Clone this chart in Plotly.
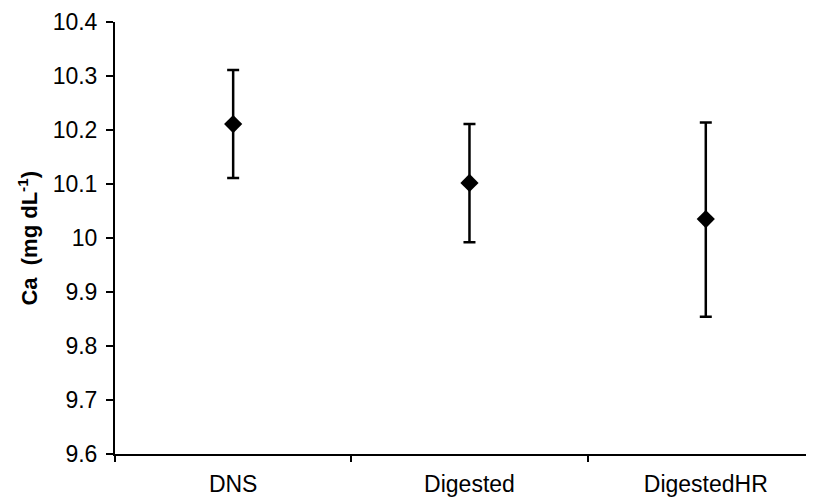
import plotly.graph_objects as go

categories = ["DNS", "Digested", "DigestedHR"]
means = [10.211, 10.102, 10.035]
upper = [10.311, 10.211, 10.214]
lower = [10.111, 9.992, 9.854]
y_ticks = [9.6, 9.7, 9.8, 9.9, 10.0, 10.1, 10.2, 10.3, 10.4]
y_tick_labels = ["9.6", "9.7", "9.8", "9.9", "10", "10.1", "10.2", "10.3", "10.4"]

err_plus = [u - m for u, m in zip(upper, means)]
err_minus = [m - l for m, l in zip(means, lower)]

# page body has an 8px margin, compensate in the figure margins
W, H = 814, 497
L, R, T, B = 106.5, 12, 14, 50.5
PW = W - L - R

fig = go.Figure()
fig.add_trace(go.Scatter(
    x=categories, y=means, mode="markers",
    marker=dict(symbol="diamond", size=14, color="black"),
    error_y=dict(type="data", symmetric=False, array=err_plus, arrayminus=err_minus,
                 color="black", thickness=2.5, width=6),
    showlegend=False,
))

font = "Liberation Sans, Arial, sans-serif"
fig.update_layout(
    width=W, height=H,
    margin=dict(l=L, r=R, t=T, b=B, pad=0, autoexpand=False),
    paper_bgcolor="white", plot_bgcolor="white",
    font=dict(family=font, color="black", size=23),
    xaxis=dict(
        type="category", range=[-0.5, 2.441], automargin=False,
        showline=True, linecolor="black", linewidth=2,
        ticks="outside", tickson="boundaries", ticklen=6, tickwidth=2, tickcolor="black",
        ticklabelstandoff=8,
        showgrid=False, zeroline=False,
        tickfont=dict(size=23, family=font),
    ),
    yaxis=dict(
        range=[9.6, 10.4], tickvals=y_ticks, ticktext=y_tick_labels, automargin=False,
        showline=True, linecolor="black", linewidth=2,
        ticks="outside", ticklen=7, tickwidth=2, tickcolor="black",
        ticklabelstandoff=4,
        showgrid=False, zeroline=False,
        tickfont=dict(size=23, family=font),
    ),
    annotations=[dict(
        text="<b>Ca&nbsp; (mg dL<sup>-1</sup>)</b>",
        xref="paper", yref="paper",
        x=(19 - L) / PW, y=0.5,
        xanchor="center", yanchor="middle",
        textangle=-90, showarrow=False,
        font=dict(size=22, family=font, color="black"),
    )],
)

fig.write_html("out.html")
